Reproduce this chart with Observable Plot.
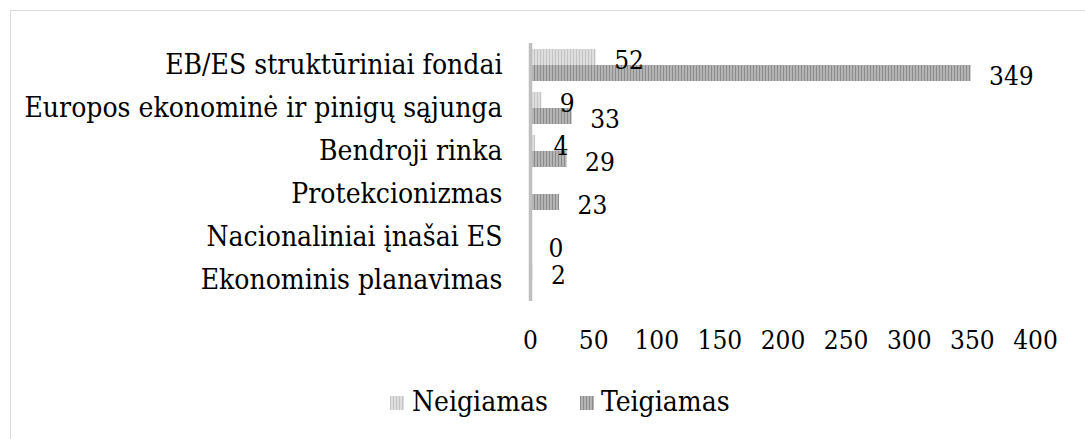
<!DOCTYPE html>
<html>
<head>
<meta charset="utf-8">
<script src="https://cdn.jsdelivr.net/npm/d3@7"></script>
<script src="https://cdn.jsdelivr.net/npm/@observablehq/plot@0.6"></script>
<style>
  html, body { margin: 0; padding: 0; background: #fff; }
  body { position: relative; width: 1085px; height: 439px; overflow: hidden; font-family: "DejaVu Serif Condensed", "DejaVu Serif", serif; }
  #frame { position: absolute; left: 10px; top: 10px; width: 1100px; height: 460px; border: 1.5px solid #d9d9d9; box-sizing: border-box; }
  #chart { position: absolute; left: 0; top: 0; }
  .leg { position: absolute; font-size: 28px; line-height: 28px; color: #000; white-space: nowrap; }
  .sw { position: absolute; width: 14px; height: 14px; }
</style>
</head>
<body>
<div id="frame"></div>
<div id="chart"></div>
<svg class="sw" style="left:390px; top:396px" width="14" height="14"><rect width="14" height="14" fill="url(#pNeg)"/></svg>
<span class="leg" style="left:412px; top:388px">Neigiamas</span>
<svg class="sw" style="left:580px; top:396px" width="14" height="14"><rect width="14" height="14" fill="url(#pPos)"/></svg>
<span class="leg" style="left:601px; top:388px">Teigiamas</span>
<script>
const categories = [
  "EB/ES struktūriniai fondai",
  "Europos ekonominė ir pinigų sąjunga",
  "Bendroji rinka",
  "Protekcionizmas",
  "Nacionaliniai įnašai ES",
  "Ekonominis planavimas"
];
const series = ["Neigiamas", "Teigiamas"];
const neigiamas = [52, 9, 4, null, null, 2];
const teigiamas = [349, 33, 29, 23, 0, null];
const xTicks = [0, 50, 100, 150, 200, 250, 300, 350, 400];

const rows = [];
categories.forEach((c, i) => {
  if (neigiamas[i] != null) rows.push({category: c, series: "Neigiamas", value: neigiamas[i]});
  if (teigiamas[i] != null) rows.push({category: c, series: "Teigiamas", value: teigiamas[i]});
});

const FONT = "'DejaVu Serif Condensed', 'DejaVu Serif', serif";

const svg = Plot.plot({
  width: 1085,
  height: 360,
  marginTop: 43,
  marginBottom: 59,
  marginLeft: 530,
  marginRight: 50,
  style: {fontFamily: FONT, fontSize: "28px", color: "#000", background: "transparent"},
  x: {domain: [0, 400], ticks: xTicks, tickSize: 0, tickPadding: 29, label: null, fontSize: 26},
  fy: {domain: categories, padding: 0, label: null, tickSize: 0, tickPadding: 28},
  y: {domain: series, axis: null, paddingInner: 0, paddingOuter: 0.34},
  facet: {data: rows, y: "category"},
  marks: [
    Plot.barX(rows, {x: "value", y: "series", filter: d => d.series === "Neigiamas", fill: "url(#pNeg)"}),
    Plot.barX(rows, {x: "value", y: "series", filter: d => d.series === "Teigiamas", fill: "url(#pPos)"}),
    Plot.ruleX([0], {stroke: "#bfbfbf", strokeWidth: 3.5}),
    Plot.text(rows, {x: "value", y: "series", text: d => String(d.value), dx: 18, dy: 3, textAnchor: "start", fill: "#000", fontSize: 26})
  ]
});

const NS = "http://www.w3.org/2000/svg";
const defs = document.createElementNS(NS, "defs");
function pattern(id, bg, stripe) {
  const p = document.createElementNS(NS, "pattern");
  p.setAttribute("id", id);
  p.setAttribute("width", "3");
  p.setAttribute("height", "3");
  p.setAttribute("patternUnits", "userSpaceOnUse");
  const r1 = document.createElementNS(NS, "rect");
  r1.setAttribute("width", "3"); r1.setAttribute("height", "3"); r1.setAttribute("fill", bg);
  const r2 = document.createElementNS(NS, "rect");
  r2.setAttribute("width", "1"); r2.setAttribute("height", "3"); r2.setAttribute("fill", stripe);
  p.appendChild(r1); p.appendChild(r2);
  defs.appendChild(p);
}
pattern("pNeg", "#dedede", "#c4c4c4");
pattern("pPos", "#b4b4b4", "#8c8c8c");
svg.insertBefore(defs, svg.firstChild);
svg.querySelectorAll("g[aria-label='x-axis tick label'] text, g[aria-label='x-axis'] text").forEach(t => t.setAttribute("font-size", "26"));
document.getElementById("chart").appendChild(svg);
</script>
</body>
</html>
